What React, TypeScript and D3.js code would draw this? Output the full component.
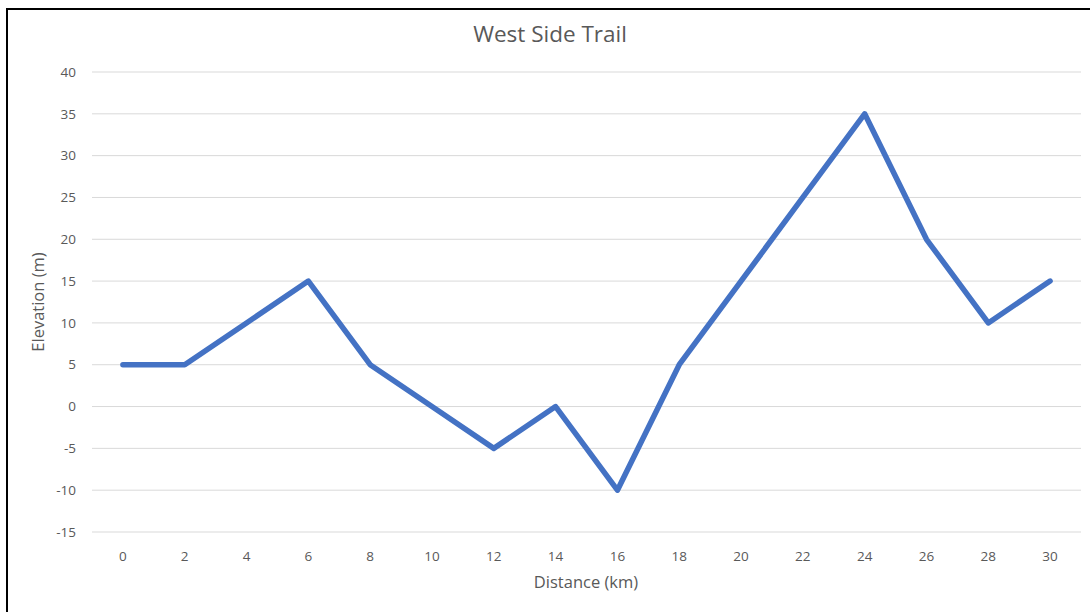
import * as d3 from "d3";
import React from "react";

const distances = [0, 2, 4, 6, 8, 10, 12, 14, 16, 18, 20, 22, 24, 26, 28, 30];
const elevations = [5, 5, 10, 15, 5, 0, -5, 0, -10, 5, 15, 25, 35, 20, 10, 15];
const yTicks = [-15, -10, -5, 0, 5, 10, 15, 20, 25, 30, 35, 40];

export default function App() {
  const width = 1090;
  const height = 612;
  const marginLeft = 92;
  const marginRight = 9;
  const marginTop = 72;
  const plotBottom = 532;

  const x = d3
    .scaleBand<number>()
    .domain(distances)
    .range([marginLeft, width - marginRight]);

  const y = d3.scaleLinear().domain([-15, 40]).range([plotBottom, marginTop]);

  const line = d3
    .line<number>()
    .x((d, i) => (x(distances[i]) as number) + x.bandwidth() / 2)
    .y((d) => y(d));

  const font = "'Open Sans', Lato, sans-serif";
  const textColor = "#595959";

  return (
    <svg
      width={width}
      height={height}
      style={{ position: "absolute", left: 0, top: 0, background: "#fff" }}
      fontFamily={font}
    >
      {/* outer border */}
      <rect x={7} y={9} width={width} height={height} fill="#fff" stroke="#000" strokeWidth={2} />

      {/* title */}
      <text x={550} y={34} dy="0.35em" textAnchor="middle" fontSize={22.5} fill={textColor}>
        West Side Trail
      </text>

      {/* gridlines + y labels */}
      <g>
        {yTicks.map((t) => (
          <g key={t}>
            <line
              x1={marginLeft}
              x2={width - marginRight}
              y1={y(t)}
              y2={y(t)}
              stroke="#d9d9d9"
              strokeWidth={1}
            />
            <text
              x={76}
              y={y(t)}
              dy="0.35em"
              textAnchor="end"
              fontSize={13.5}
              fill={textColor}
            >
              {t}
            </text>
          </g>
        ))}
      </g>

      {/* x labels */}
      <g>
        {distances.map((d) => (
          <text
            key={d}
            x={(x(d) as number) + x.bandwidth() / 2}
            y={556}
            dy="0.35em"
            textAnchor="middle"
            fontSize={13.5}
            fill={textColor}
          >
            {d}
          </text>
        ))}
      </g>

      {/* axis titles */}
      <text x={586} y={582} dy="0.35em" textAnchor="middle" fontSize={16.5} fill={textColor}>
        Distance (km)
      </text>
      <text
        transform={`translate(38,${302}) rotate(-90)`}
        dy="0.35em"
        textAnchor="middle"
        fontSize={16.5}
        fill={textColor}
      >
        Elevation (m)
      </text>

      {/* data line */}
      <path
        d={line(elevations) ?? ""}
        fill="none"
        stroke="#4472C4"
        strokeWidth={5.5}
        strokeLinejoin="round"
        strokeLinecap="round"
      />
    </svg>
  );
}
